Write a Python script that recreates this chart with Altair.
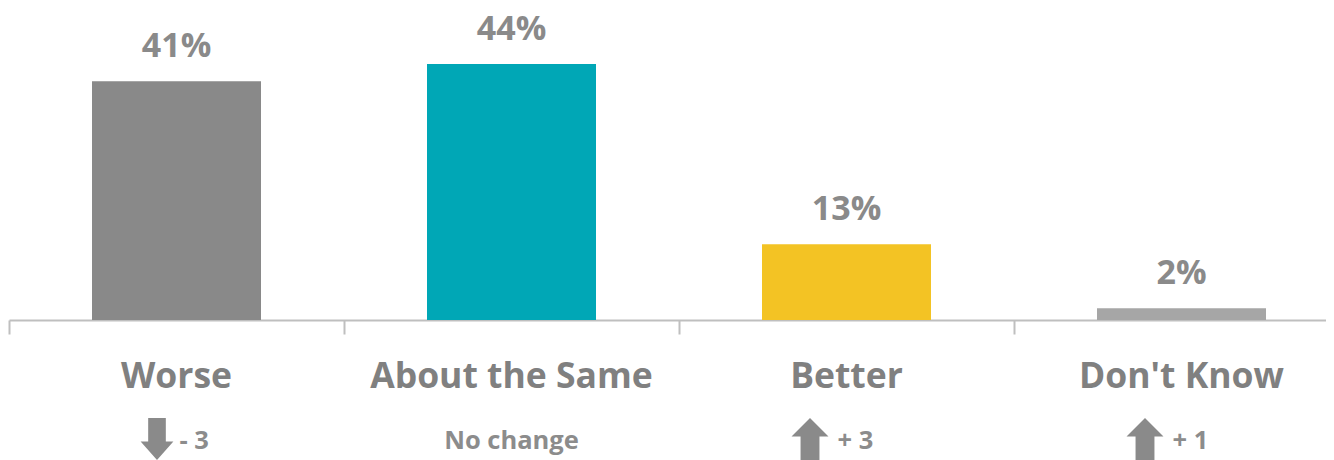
import altair as alt
import pandas as pd

categories = ["Worse", "About the Same", "Better", "Don't Know"]
values = [41, 44, 13, 2]
changes = ["- 3", "No change", "+ 3", "+ 1"]
directions = ["down", "none", "up", "up"]
colors = ["#898989", "#00A7B6", "#F3C324", "#A6A6A6"]

df = pd.DataFrame({
    "cat": categories,
    "val": values,
    "label": [f"{v}%" for v in values],
    "change": changes,
    "dir": directions,
    "color": colors,
})

FONT = "Open Sans"
UP = "M0,-1 L0.88,-0.12 L0.45,-0.12 L0.45,1 L-0.45,1 L-0.45,-0.12 L-0.88,-0.12 Z"
DOWN = "M0,1 L0.78,0.12 L0.42,0.12 L0.42,-1 L-0.42,-1 L-0.42,0.12 L-0.78,0.12 Z"

x = alt.X("cat:N", sort=categories,
          scale=alt.Scale(type="band", range=[1, 1341], paddingInner=0, paddingOuter=0),
          axis=alt.Axis(title=None, labels=False, ticks=True, tickSize=14, tickWidth=2,
                        tickColor="#BFBFBF", domainColor="#BFBFBF", domainWidth=2,
                        bandPosition=0, grid=False))
xs = alt.X("cat:N", sort=categories)

base = alt.Chart(df)

bars = base.mark_bar(width=169).encode(
    x=x,
    y=alt.Y("val:Q", scale=alt.Scale(domain=[0, 53.6], nice=False), axis=None),
    color=alt.Color("color:N", scale=None),
)

pct = base.mark_text(font=FONT, fontWeight="bold", fontSize=34, color="#8A8A8A",
                     baseline="alphabetic", dy=-24).encode(
    x=xs, y="val:Q", text="label:N",
)

catlab = base.mark_text(font=FONT, fontWeight="bold", fontSize=35.5, color="#808080",
                        baseline="alphabetic").encode(
    x=xs, y=alt.value(380), text="cat:N",
)

txt_style = dict(font=FONT, fontWeight="bold", fontSize=25.5, color="#8C8C8C", baseline="alphabetic")

nochange = base.transform_filter("datum.dir == 'none'").mark_text(**txt_style).encode(
    x=xs, y=alt.value(441), text="change:N",
)
chg_down = base.transform_filter("datum.dir == 'down'").mark_text(
    align="left", dx=3, **txt_style).encode(
    x=xs, y=alt.value(441), text="change:N",
)
chg_up = base.transform_filter("datum.dir == 'up'").mark_text(
    align="left", dx=-9, **txt_style).encode(
    x=xs, y=alt.value(441), text="change:N",
)

arrow_style = dict(filled=True, opacity=1, size=1764, color="#8A8A8A", strokeWidth=0)
arrow_down = base.transform_filter("datum.dir == 'down'").mark_point(
    shape=DOWN, **arrow_style).encode(
    x=xs, xOffset=alt.value(148), y=alt.value(431),
)
arrow_up = base.transform_filter("datum.dir == 'up'").mark_point(
    shape=UP, **arrow_style).encode(
    x=xs, xOffset=alt.value(131), y=alt.value(431),
)

chart = alt.layer(bars, pct, catlab, nochange, chg_down, chg_up, arrow_down, arrow_up).properties(
    width=1318, height=312,
    autosize=alt.AutoSizeParams(type="none"),
    padding={"left": 0, "top": 0, "right": 0, "bottom": 140},
    background="white",
).configure_view(stroke=None)

chart.save("out.html", embed_options={"renderer": "svg", "actions": False})
